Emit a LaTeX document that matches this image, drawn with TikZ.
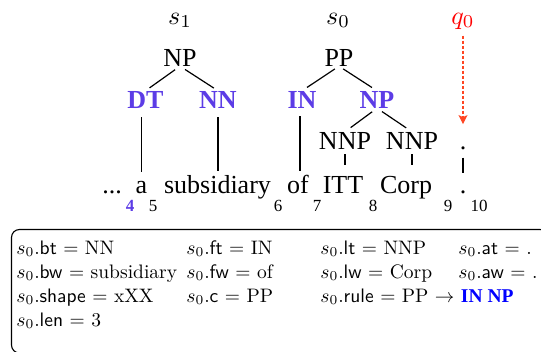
\documentclass[tikz,border=0pt]{standalone}
\usepackage{fontspec}
\newfontfamily\tms{Liberation Serif}
\usetikzlibrary{arrows.meta}
\definecolor{tagpurple}{RGB}{92,60,230}
\definecolor{arrowred}{RGB}{255,70,35}
\tikzset{
  tw/.style={font=\tms\fontsize{26}{30}\selectfont, anchor=base, inner sep=0pt},
  tb/.style={font=\tms\bfseries\fontsize{26}{30}\selectfont, anchor=base, inner sep=0pt, text=tagpurple},
  mlab/.style={scale=2.6, anchor=base, inner sep=0pt},
  idx/.style={font=\tms\fontsize{17}{20}\selectfont, anchor=base, inner sep=0pt},
  bx/.style={scale=1.95, anchor=base west, inner sep=0pt},
  edge/.style={line width=1.2pt},
}
\begin{document}
\begin{tikzpicture}[x=1pt,y=-1pt]
\useasboundingbox (0,0) rectangle (541,351);
% stack / queue labels
\node[mlab] (s1) at (180,24) {$s_1$};
\node[mlab] (s0) at (338,24) {$s_0$};
\node[mlab,text=red] (q0) at (463,24) {$q_0$};
% tree nodes
\node[tw] (np1) at (180,66) {NP};
\node[tw] (pp) at (339,66) {PP};
\node[tb] (dt) at (145.5,108) {DT};
\node[tb] (nn) at (218,108) {NN};
\node[tb] (in) at (302,108) {IN};
\node[tb] (np2) at (377,108) {NP};
\node[tw] (nnp1) at (345,149) {NNP};
\node[tw] (nnp2) at (412,149) {NNP};
\node[tw] (dtag) at (463,149) {.};
% words
\node[tw] (wdots) at (112,193) {...};
\node[tw] (wa) at (141.5,193) {a};
\node[tw] (wsub) at (217.5,193) {subsidiary};
\node[tw] (wof) at (298,193) {of};
\node[tw] (witt) at (343,193) {ITT};
\node[tw] (wcorp) at (406,193) {Corp};
\node[tw] (wdot) at (463,193) {.};
% indices
\node[idx,text=tagpurple,font=\tms\bfseries\fontsize{17}{20}\selectfont] (i4) at (130,211) {4};
\node[idx] (i5) at (153,211) {5};
\node[idx] (i6) at (278,211) {6};
\node[idx] (i7) at (317,211) {7};
\node[idx] (i8) at (373,211) {8};
\node[idx] (i9) at (448,211) {9};
\node[idx] (i10) at (479,211) {10};
% tree edges
\draw[edge,shorten <=6pt,shorten >=5pt] (np1.south) -- (dt.north);
\draw[edge,shorten <=6pt,shorten >=5pt] (np1.south) -- (nn.north);
\draw[edge,shorten <=5pt,shorten >=6pt] (pp.south) -- (in.north);
\draw[edge,shorten <=5pt,shorten >=6pt] (pp.south) -- (np2.north);
\draw[edge,shorten <=6pt,shorten >=7pt] (np2.south) -- (nnp1.north);
\draw[edge,shorten <=6pt,shorten >=7pt] (np2.south) -- (nnp2.north);
\draw[edge,shorten <=9pt,shorten >=9pt] (wa.north |- dt.south) -- (wa.north);
\draw[edge,shorten <=9pt,shorten >=4pt] (nn.south) -- (nn.south |- wsub.north);
\draw[edge,shorten <=8pt,shorten >=3pt] ([xshift=-2pt]in.south) -- ([xshift=-2pt]in.south |- wof.north);
\draw[edge,shorten <=5pt,shorten >=11pt] (nnp1.south) -- (nnp1.south |- witt.north);
\draw[edge,shorten <=5pt,shorten >=11pt] (nnp2.south) -- (nnp2.south |- wcorp.north);
\draw[edge,shorten <=8pt,shorten >=17pt] (dtag.south) -- (wdot.north);
% queue arrow
\draw[arrowred,line width=1.2pt,dash pattern=on 3pt off 2pt,shorten <=6pt,shorten >=22pt,
  -{Stealth[length=9pt,width=9pt,inset=2pt]}] (q0.south) -- (dtag.north);
% feature box
\draw[line width=1.1pt,rounded corners=8pt] (11.5,229.5) rectangle (548,353);
\node[bx] (f1) at (16,254) {$s_0$.\textsf{bt} $=$ NN};
\node[bx] (f2) at (16,278) {$s_0$.\textsf{bw} $=$ subsidiary};
\node[bx] (f3) at (16,302) {$s_0$.\textsf{shape} $=$ xXX};
\node[bx] (f4) at (16,326) {$s_0$.\textsf{len} $=$ 3};
\node[bx] (f5) at (186,254) {$s_0$.\textsf{ft} $=$ IN};
\node[bx] (f6) at (186,278) {$s_0$.\textsf{fw} $=$ of};
\node[bx] (f7) at (186,302) {$s_0$.\textsf{c} $=$ PP};
\node[bx] (f8) at (320,254) {$s_0$.\textsf{lt} $=$ NNP};
\node[bx] (f9) at (320,278) {$s_0$.\textsf{lw} $=$ Corp};
\node[bx] (f10) at (320,302) {$s_0$.\textsf{rule} $=$ PP $\rightarrow$ \textcolor{blue}{\tms\bfseries IN NP}};
\node[bx] (f11) at (458,254) {$s_0$.\textsf{at} $=$ .};
\node[bx] (f12) at (458,278) {$s_0$.\textsf{aw} $=$ .};
\end{tikzpicture}
\end{document}
